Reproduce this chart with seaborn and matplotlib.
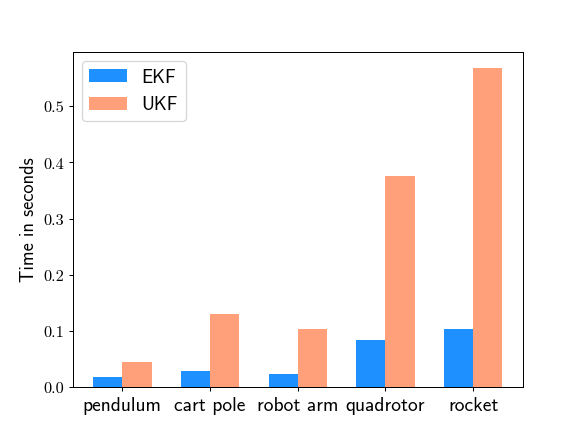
import numpy as np
import pandas as pd
import matplotlib
matplotlib.use("Agg")
import matplotlib.pyplot as plt
import seaborn as sns

# timing results
systems = ["pendulum", "cart pole", "robot arm", "quadrotor", "rocket"]
ekf_time = [0.018, 0.0285, 0.0226, 0.083, 0.103]
ukf_time = [0.0445, 0.130, 0.103, 0.376, 0.569]
methods = ["EKF", "UKF"]
colors = ["#1E90FF", "#FFA07A"]

df = pd.DataFrame({
    "system": systems * 2,
    "method": ["EKF"] * len(systems) + ["UKF"] * len(systems),
    "time": ekf_time + ukf_time,
})

fig, ax = plt.subplots(figsize=(6.4, 4.8), dpi=581 / 6.4)

sns.barplot(data=df, x="system", y="time", hue="method", hue_order=methods,
            palette=colors, saturation=1, width=2 / 3, linewidth=0, ax=ax)

# match matplotlib's autoscale margins for bars of width 1/3
ax.set_xlim(-1 / 3 - 0.2333, 4 + 1 / 3 + 0.2333)
ax.set_ylim(0, 1.05 * max(ukf_time))
ax.set_yticks([0.0, 0.1, 0.2, 0.3, 0.4, 0.5])
ax.set_yticklabels([f"{v:.1f}" for v in [0.0, 0.1, 0.2, 0.3, 0.4, 0.5]],
                   family="cmr10", fontsize=13)
ax.set_xticks(range(len(systems)))
ax.set_xticklabels(systems, family="cmss10", fontsize=15.5)

ax.set_xlabel("")
ax.set_ylabel("Time in seconds", family="cmss10", fontsize=14.6)

leg = ax.legend(loc="upper left", prop={"family": "cmss10", "size": 14.8})
leg.set_title(None)

plt.savefig("out.png", dpi=581 / 6.4)
